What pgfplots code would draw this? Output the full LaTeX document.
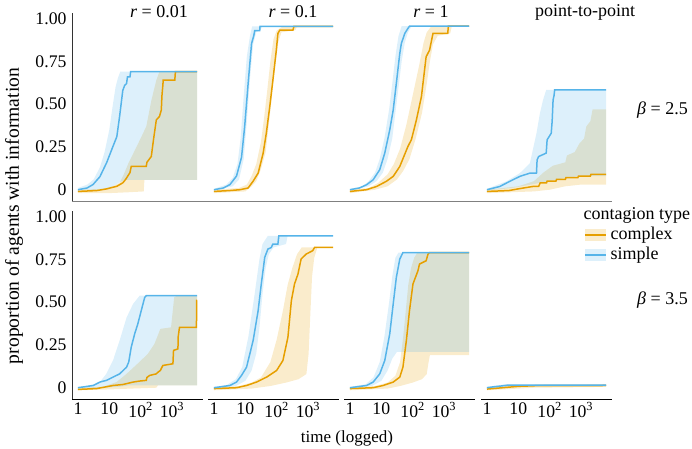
\documentclass[border=0pt]{standalone}
\usepackage{fontspec}
\setmainfont{Liberation Serif}
\usepackage{pgfplots}
\pgfplotsset{compat=1.18}
\usepgfplotslibrary{fillbetween}
\definecolor{sblue}{HTML}{56B4E9}
\definecolor{corange}{HTML}{E69F00}
\newcommand\fs[1]{\fontsize{#1}{#1}\selectfont}
\pgfplotsset{
 panel/.style={scale only axis, width=131pt, height=188pt, anchor=south west,
   xmin=-0.19, xmax=3.99, ymin=-0.066, ymax=1.033,
   axis x line*=bottom, axis y line*=left,
   major tick length=0pt,
   xtick={0,1,2,3}, xticklabels={1,10,10\textsuperscript{2},10\textsuperscript{3}},
   ytick={0,0.25,0.5,0.75,1}, yticklabels={0,0.25,0.50,0.75,1.00},
   tick label style={font=\fs{17.7}},
   yticklabel style={xshift=-2pt},
   x axis line style={black, line width=1pt},
   y axis line style={black!80, line width=1pt},
 },
 toprow/.style={axis x line=none, xtick=\empty},
 inner/.style={axis y line=none, ytick=\empty},
 bnd/.style={draw=none, forget plot},
 sfill/.style={fill=sblue, fill opacity=0.2, draw=none, forget plot},
 ofill/.style={fill=corange, fill opacity=0.2, draw=none, forget plot},
 sline/.style={sblue, line width=1.5pt, forget plot},
 oline/.style={corange, line width=1.5pt, forget plot},
}
\begin{document}
\begin{tikzpicture}

% ---------------- Row 1, col 1 (r = 0.01, beta = 2.5)
\begin{axis}[panel, toprow, at={(72pt,247pt)}]
\addplot[bnd, name path=aou] coordinates {(0,0) (0.8,0.005) (1.1,0.02) (1.33,0.04) (1.44,0.08) (1.6,0.15) (1.76,0.21) (2.0,0.3) (2.18,0.37) (2.34,0.52) (2.5,0.64) (2.6,0.69) (3.8,0.69)};
\addplot[bnd, name path=aol] coordinates {(0,-0.02) (1.0,-0.02) (1.6,-0.015) (2.1,-0.01) (2.12,0.058) (3.8,0.058)};
\addplot[ofill] fill between[of=aou and aol];
\addplot[bnd, name path=asu] coordinates {(0,0.01) (0.3,0.03) (0.5,0.06) (0.7,0.13) (0.85,0.22) (1.0,0.35) (1.1,0.48) (1.2,0.6) (1.27,0.65) (1.35,0.69) (3.8,0.69)};
\addplot[bnd, name path=asl] coordinates {(0,-0.005) (0.6,0) (1.0,0.01) (1.2,0.03) (1.4,0.05) (1.5,0.058) (3.8,0.058)};
\addplot[sfill] fill between[of=asu and asl];
\addplot[oline] coordinates {(0,-0.01) (0.6,-0.005) (0.92,0.005) (1.24,0.02) (1.43,0.04) (1.52,0.06) (1.59,0.08) (1.66,0.1) (1.70,0.136) (2.18,0.136) (2.2,0.16) (2.34,0.194) (2.41,0.292) (2.50,0.408) (2.60,0.428) (2.66,0.466) (2.68,0.55) (2.71,0.612) (2.72,0.641) (3.09,0.641) (3.11,0.69) (3.8,0.69)};
\addplot[sline] coordinates {(0,0) (0.29,0.01) (0.48,0.03) (0.70,0.076) (0.92,0.16) (1.11,0.25) (1.24,0.31) (1.33,0.43) (1.43,0.58) (1.49,0.61) (1.55,0.62) (1.58,0.66) (1.66,0.66) (1.68,0.69) (3.8,0.69)};
\end{axis}

% ---------------- Row 1, col 2 (r = 0.1)
\begin{axis}[panel, toprow, inner, at={(208pt,247pt)}]
\addplot[bnd, name path=bou] coordinates {(0,0) (0.8,0.01) (1.05,0.03) (1.2,0.08) (1.35,0.15) (1.5,0.28) (1.6,0.42) (1.7,0.58) (1.8,0.75) (1.9,0.88) (2.0,0.93) (2.2,0.955) (3.8,0.955)};
\addplot[bnd, name path=bol] coordinates {(0,-0.02) (1.0,-0.01) (1.2,0.02) (1.35,0.05) (1.5,0.12) (1.65,0.22) (1.75,0.38) (1.85,0.55) (1.95,0.72) (2.05,0.86) (2.15,0.92) (2.6,0.933) (2.65,0.955) (3.8,0.955)};
\addplot[ofill] fill between[of=bou and bol];
\addplot[bnd, name path=bsu] coordinates {(0,0.005) (0.4,0.03) (0.6,0.07) (0.75,0.15) (0.85,0.3) (0.95,0.55) (1.05,0.78) (1.15,0.9) (1.22,0.955) (3.8,0.955)};
\addplot[bnd, name path=bsl] coordinates {(0,-0.005) (0.6,0.02) (0.8,0.06) (0.95,0.18) (1.05,0.4) (1.15,0.65) (1.25,0.85) (1.35,0.92) (1.5,0.94) (1.55,0.955) (3.8,0.955)};
\addplot[sfill] fill between[of=bsu and bsl];
\addplot[oline] coordinates {(0,-0.01) (0.5,-0.005) (0.83,0.0) (1.09,0.01) (1.25,0.05) (1.41,0.097) (1.57,0.214) (1.67,0.33) (1.78,0.485) (1.88,0.64) (1.99,0.816) (2.04,0.913) (2.10,0.933) (2.52,0.933) (2.55,0.955) (3.8,0.955)};
\addplot[sline] coordinates {(0,0) (0.3,0.01) (0.51,0.03) (0.72,0.08) (0.88,0.19) (0.98,0.37) (1.09,0.62) (1.20,0.855) (1.27,0.9) (1.30,0.93) (1.46,0.93) (1.47,0.955) (3.8,0.955)};
\end{axis}

% ---------------- Row 1, col 3 (r = 1)
\begin{axis}[panel, toprow, inner, at={(344pt,247pt)}]
\addplot[bnd, name path=cou] coordinates {(0,0) (0.6,0.01) (0.9,0.04) (1.2,0.09) (1.4,0.15) (1.6,0.24) (1.8,0.38) (2.0,0.55) (2.2,0.72) (2.35,0.86) (2.45,0.92) (2.6,0.956) (3.8,0.956)};
\addplot[bnd, name path=col] coordinates {(0,-0.02) (0.8,0.0) (1.2,0.02) (1.5,0.06) (1.7,0.11) (1.9,0.18) (2.1,0.3) (2.3,0.45) (2.45,0.62) (2.55,0.75) (2.65,0.85) (2.8,0.9) (3.2,0.914) (3.25,0.956) (3.8,0.956)};
\addplot[ofill] fill between[of=cou and col];
\addplot[bnd, name path=csu] coordinates {(0,0.005) (0.4,0.02) (0.6,0.05) (0.8,0.1) (0.95,0.18) (1.1,0.3) (1.25,0.47) (1.35,0.62) (1.45,0.78) (1.55,0.9) (1.65,0.956) (3.8,0.956)};
\addplot[bnd, name path=csl] coordinates {(0,-0.005) (0.6,0.02) (0.85,0.05) (1.05,0.1) (1.2,0.18) (1.35,0.3) (1.45,0.45) (1.55,0.6) (1.65,0.75) (1.75,0.86) (1.85,0.92) (1.95,0.95) (2.0,0.956) (3.8,0.956)};
\addplot[sfill] fill between[of=csu and csl];
\addplot[oline] coordinates {(0,-0.01) (0.53,0.0) (0.85,0.019) (1.16,0.049) (1.38,0.078) (1.59,0.136) (1.85,0.253) (1.96,0.292) (2.12,0.408) (2.28,0.544) (2.43,0.777) (2.54,0.816) (2.60,0.87) (2.65,0.914) (3.12,0.914) (3.14,0.956) (3.8,0.956)};
\addplot[sline] coordinates {(0,0) (0.3,0.01) (0.53,0.029) (0.74,0.058) (0.95,0.117) (1.11,0.214) (1.27,0.35) (1.38,0.466) (1.48,0.622) (1.59,0.797) (1.64,0.855) (1.75,0.914) (1.85,0.943) (1.90,0.956) (3.8,0.956)};
\end{axis}

% ---------------- Row 1, col 4 (point-to-point)
\begin{axis}[panel, toprow, inner, at={(481pt,247pt)}]
\addplot[bnd, name path=dou] coordinates {(0,0) (1.0,0.02) (1.5,0.05) (1.8,0.1) (2.1,0.14) (2.5,0.16) (2.55,0.2) (2.8,0.22) (2.95,0.27) (3.1,0.3) (3.17,0.37) (3.3,0.4) (3.37,0.47) (3.8,0.47)};
\addplot[bnd, name path=dol] coordinates {(0,-0.02) (1.5,-0.01) (2.0,0.0) (2.5,0.02) (3.0,0.03) (3.8,0.03)};
\addplot[ofill] fill between[of=dou and dol];
\addplot[bnd, name path=dsu] coordinates {(0,0.005) (0.62,0.049) (1.05,0.097) (1.37,0.155) (1.58,0.33) (1.69,0.447) (1.79,0.525) (1.89,0.583) (3.8,0.583)};
\addplot[bnd, name path=dsl] coordinates {(0,-0.005) (0.8,0.01) (1.4,0.03) (2.0,0.05) (2.5,0.07) (3.0,0.08) (3.8,0.08)};
\addplot[sfill] fill between[of=dsu and dsl];
\addplot[oline] coordinates {(0,-0.01) (0.7,-0.005) (1.0,0.005) (1.5,0.02) (1.65,0.02) (1.7,0.04) (1.9,0.04) (1.92,0.05) (2.2,0.05) (2.22,0.06) (2.5,0.06) (2.52,0.07) (2.9,0.07) (2.92,0.08) (3.3,0.08) (3.32,0.09) (3.8,0.09)};
\addplot[sline] coordinates {(0,0) (0.41,0.019) (0.73,0.049) (1.05,0.078) (1.37,0.097) (1.58,0.097) (1.60,0.175) (1.65,0.194) (1.89,0.214) (1.92,0.292) (2.05,0.33) (2.08,0.4) (2.11,0.525) (2.14,0.55) (2.16,0.583) (3.8,0.583)};
\end{axis}

% ---------------- Row 2, col 1 (beta = 3.5)
\begin{axis}[panel, at={(72pt,49pt)}]
\addplot[bnd, name path=eou] coordinates {(0,0) (0.8,0.005) (1.23,0.033) (1.55,0.081) (1.9,0.14) (2.23,0.198) (2.44,0.256) (2.63,0.344) (2.97,0.353) (3.07,0.528) (3.16,0.538) (3.8,0.538)};
\addplot[bnd, name path=eol] coordinates {(0,-0.015) (1.0,-0.01) (1.7,-0.005) (2.5,0.0) (2.55,0.013) (3.8,0.013)};
\addplot[ofill] fill between[of=eou and eol];
\addplot[bnd, name path=esu] coordinates {(0,0.005) (0.4,0.015) (0.7,0.033) (0.9,0.08) (1.12,0.16) (1.33,0.276) (1.55,0.41) (1.76,0.49) (1.97,0.538) (3.8,0.538)};
\addplot[bnd, name path=esl] coordinates {(0,-0.005) (0.8,0.0) (1.3,0.005) (1.6,0.013) (3.8,0.013)};
\addplot[sfill] fill between[of=esu and esl];
\addplot[oline] coordinates {(0,-0.01) (0.6,-0.005) (1.12,0.013) (1.44,0.019) (1.76,0.033) (1.97,0.039) (2.18,0.043) (2.2,0.06) (2.29,0.072) (2.50,0.081) (2.55,0.09) (2.63,0.101) (2.68,0.12) (2.71,0.13) (3.03,0.14) (3.05,0.218) (3.19,0.227) (3.2,0.3) (3.24,0.353) (3.78,0.353) (3.79,0.51) (3.8,0.51)};
\addplot[sline] coordinates {(0,0) (0.49,0.013) (0.70,0.033) (0.91,0.043) (1.12,0.062) (1.33,0.081) (1.55,0.12) (1.62,0.15) (1.70,0.237) (1.81,0.315) (1.91,0.373) (2.02,0.451) (2.13,0.528) (2.18,0.538) (3.8,0.538)};
\end{axis}

% ---------------- Row 2, col 2
\begin{axis}[panel, inner, at={(208pt,49pt)}]
\addplot[bnd, name path=fou] coordinates {(0,0) (0.8,0.01) (1.2,0.03) (1.5,0.06) (1.8,0.15) (2.0,0.28) (2.2,0.45) (2.35,0.6) (2.5,0.7) (2.65,0.78) (2.8,0.82) (3.8,0.82)};
\addplot[bnd, name path=fol] coordinates {(0,-0.015) (1.2,-0.005) (1.8,0.01) (2.3,0.03) (2.7,0.05) (2.95,0.08) (3.02,0.2) (3.08,0.45) (3.13,0.65) (3.2,0.76) (3.3,0.82) (3.8,0.82)};
\addplot[ofill] fill between[of=fou and fol];
\addplot[bnd, name path=fsu] coordinates {(0,0.005) (0.4,0.015) (0.7,0.05) (0.9,0.12) (1.1,0.3) (1.3,0.55) (1.45,0.75) (1.55,0.84) (1.72,0.888) (3.8,0.888)};
\addplot[bnd, name path=fsl] coordinates {(0,-0.005) (0.7,0.01) (1.0,0.04) (1.2,0.1) (1.35,0.2) (1.45,0.35) (1.55,0.55) (1.65,0.7) (1.75,0.78) (1.9,0.82) (2.3,0.84) (2.35,0.888) (3.8,0.888)};
\addplot[sfill] fill between[of=fsu and fsl];
\addplot[oline] coordinates {(0,-0.005) (0.72,0.0) (1.04,0.013) (1.36,0.033) (1.68,0.062) (2.0,0.101) (2.2,0.159) (2.36,0.295) (2.47,0.509) (2.57,0.606) (2.68,0.664) (2.78,0.752) (2.94,0.781) (3.15,0.801) (3.21,0.82) (3.8,0.82)};
\addplot[sline] coordinates {(0,0) (0.51,0.013) (0.72,0.033) (0.88,0.072) (1.04,0.12) (1.25,0.276) (1.41,0.451) (1.51,0.606) (1.62,0.762) (1.72,0.81) (1.83,0.82) (1.88,0.84) (2.04,0.84) (2.07,0.888) (3.8,0.888)};
\end{axis}

% ---------------- Row 2, col 3
\begin{axis}[panel, inner, at={(344pt,49pt)}]
\addplot[bnd, name path=gou] coordinates {(0,0) (0.8,0.01) (1.2,0.03) (1.45,0.07) (1.6,0.15) (1.7,0.3) (1.78,0.45) (1.86,0.6) (1.95,0.7) (2.05,0.76) (2.15,0.79) (3.8,0.79)};
\addplot[bnd, name path=gol] coordinates {(0,-0.015) (1.2,-0.005) (1.6,0.01) (2.0,0.03) (2.3,0.05) (2.45,0.08) (2.5,0.14) (2.55,0.19) (3.8,0.19)};
\addplot[ofill] fill between[of=gou and gol];
\addplot[bnd, name path=gsu] coordinates {(0,0.005) (0.5,0.02) (0.75,0.06) (0.95,0.15) (1.1,0.3) (1.25,0.5) (1.35,0.65) (1.45,0.76) (1.55,0.79) (3.8,0.79)};
\addplot[bnd, name path=gsl] coordinates {(0,-0.005) (0.7,0.01) (1.0,0.04) (1.2,0.1) (1.35,0.17) (1.5,0.21) (3.8,0.21)};
\addplot[sfill] fill between[of=gsu and gsl];
\addplot[oline] coordinates {(0,-0.005) (0.74,0.0) (1.06,0.013) (1.38,0.033) (1.59,0.062) (1.69,0.12) (1.80,0.276) (1.90,0.451) (2.01,0.606) (2.17,0.684) (2.22,0.723) (2.43,0.742) (2.49,0.781) (2.54,0.79) (3.8,0.79)};
\addplot[sline] coordinates {(0,0) (0.53,0.013) (0.74,0.033) (0.95,0.081) (1.11,0.159) (1.27,0.315) (1.38,0.49) (1.48,0.645) (1.59,0.752) (1.69,0.79) (3.8,0.79)};
\end{axis}

% ---------------- Row 2, col 4
\begin{axis}[panel, inner, at={(481pt,49pt)},
  legend style={at={(0.786,1.032)}, anchor=north west, draw=none, fill=none, inner sep=0pt, row sep=0pt, column sep=3pt, font=\fs{18}, nodes={inner sep=1pt, text height=13.5pt, text depth=4.5pt}},
  legend cell align=left]
\addlegendimage{empty legend}
\addlegendentry{\hspace*{-27pt}contagion type}
\addlegendimage{legend image code/.code={\path[fill=corange, fill opacity=0.2, draw=none] (0pt,-6pt) rectangle (21pt,6pt); \draw[corange, line width=1.5pt] (0pt,0pt) -- (21pt,0pt);}}
\addlegendentry{complex}
\addlegendimage{legend image code/.code={\path[fill=sblue, fill opacity=0.2, draw=none] (0pt,-6pt) rectangle (21pt,6pt); \draw[sblue, line width=1.5pt] (0pt,0pt) -- (21pt,0pt);}}
\addlegendentry{simple}
\addplot[bnd, name path=hou] coordinates {(0,0) (1.0,0.015) (3.8,0.018)};
\addplot[bnd, name path=hol] coordinates {(0,-0.015) (1.5,0.0) (3.8,0.005)};
\addplot[ofill] fill between[of=hou and hol];
\addplot[bnd, name path=hsu] coordinates {(0,0.005) (0.5,0.018) (3.8,0.02)};
\addplot[bnd, name path=hsl] coordinates {(0,-0.005) (0.8,0.008) (3.8,0.01)};
\addplot[sfill] fill between[of=hsu and hsl];
\addplot[oline] coordinates {(0,-0.008) (0.5,0.0) (1.0,0.008) (1.6,0.012) (3.8,0.013)};
\addplot[sline] coordinates {(0,0) (0.2,0.005) (0.45,0.01) (0.65,0.015) (3.8,0.015)};
\end{axis}

% row-1 bottom rule, shared
\draw[black!50, line width=1pt] (72pt,247pt) -- (612pt,247pt);

% strip titles
\node[font=\fs{18}] at (159pt,436.5pt) {\textit{r} = 0.01};
\node[font=\fs{18}] at (293pt,436.5pt) {\textit{r} = 0.1};
\node[font=\fs{18}] at (431pt,436.5pt) {\textit{r} = 1};
\node[font=\fs{18}] at (585pt,436pt) {point-to-point};
\node[font=\fs{18}] at (662.5pt,338pt) {\textit{β} = 2.5};
\node[font=\fs{18}] at (662.5pt,148pt) {\textit{β} = 3.5};
% axis titles
\node[font=\fs{17}] at (347pt,10pt) {time (logged)};
\node[font=\fs{19.6}, rotate=90] at (14pt,232pt) {proportion of agents with information};
\pgfresetboundingbox
\path[use as bounding box] (0pt,0pt) rectangle (692pt,448pt);
\end{tikzpicture}
\end{document}
